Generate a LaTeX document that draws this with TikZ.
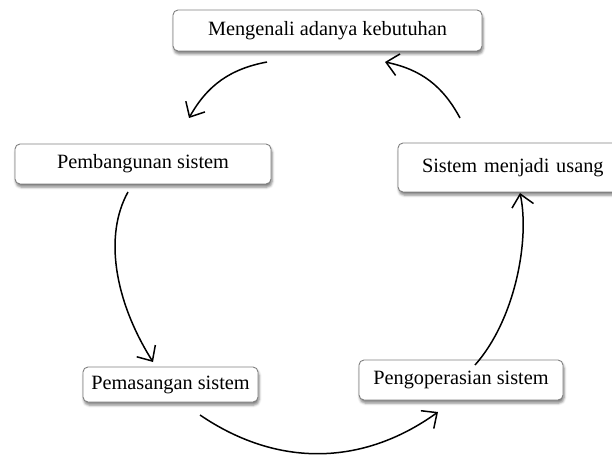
\documentclass[tikz,border=0pt]{standalone}
\usepackage{fontspec}
\setmainfont{Liberation Serif}
\usetikzlibrary{arrows.meta,shadows.blur}
\tikzset{
  stagebox/.style={draw=black!50, line width=0.9bp, fill=white, rounded corners=5bp,
    blur shadow={shadow xshift=1bp, shadow yshift=-3bp, shadow blur radius=2.5bp, shadow opacity=50},
    inner sep=0pt, font=\fontsize{20.3bp}{24bp}\selectfont},
  flow/.style={line width=1.5bp, -{Straight Barb[length=12bp,width=22bp,line width=1.5bp]}}
}
\begin{document}
\begin{tikzpicture}[x=1bp,y=-1bp]
\useasboundingbox (0,0) rectangle (612,456);
\node[stagebox, minimum width=309bp, minimum height=41bp] (kebutuhan) at (327.5,30.5) {Mengenali adanya kebutuhan};
\node[stagebox, minimum width=256bp, minimum height=40bp] (bangun) at (143,164) {Pembangunan sistem};
\node[stagebox, minimum width=224bp, minimum height=49bp, text width=224bp, align=left] (usang) at (510,167.5) {\hspace*{24bp}Sistem menjadi usang};
\node[stagebox, minimum width=175bp, minimum height=35bp] (pasang) at (170.5,384.5) {Pemasangan sistem};
\node[stagebox, minimum width=204bp, minimum height=40bp] (operasi) at (461,380) {Pengoperasian sistem};

\coordinate (a1) at (267,62);
\coordinate (a2) at (189,118);
\coordinate (b1) at (128,192);
\coordinate (b2) at (153,362);
\coordinate (c1) at (200,415);
\coordinate (c2) at (438,412);
\coordinate (d1) at (475,365);
\coordinate (d2) at (520,193);
\coordinate (e1) at (460,118);
\coordinate (e2) at (385,62);

\draw[flow] (a1) to[bend right=25] (a2);
\draw[flow] (b1) .. controls (104,235) and (114,300) .. (b2);
\draw[flow] (c1) to[bend right=35] (c2);
\draw[flow] (d1) .. controls (515,320) and (530,240) .. (d2);
\draw[flow] (e1) to[bend right=25] (e2);
\end{tikzpicture}
\end{document}
